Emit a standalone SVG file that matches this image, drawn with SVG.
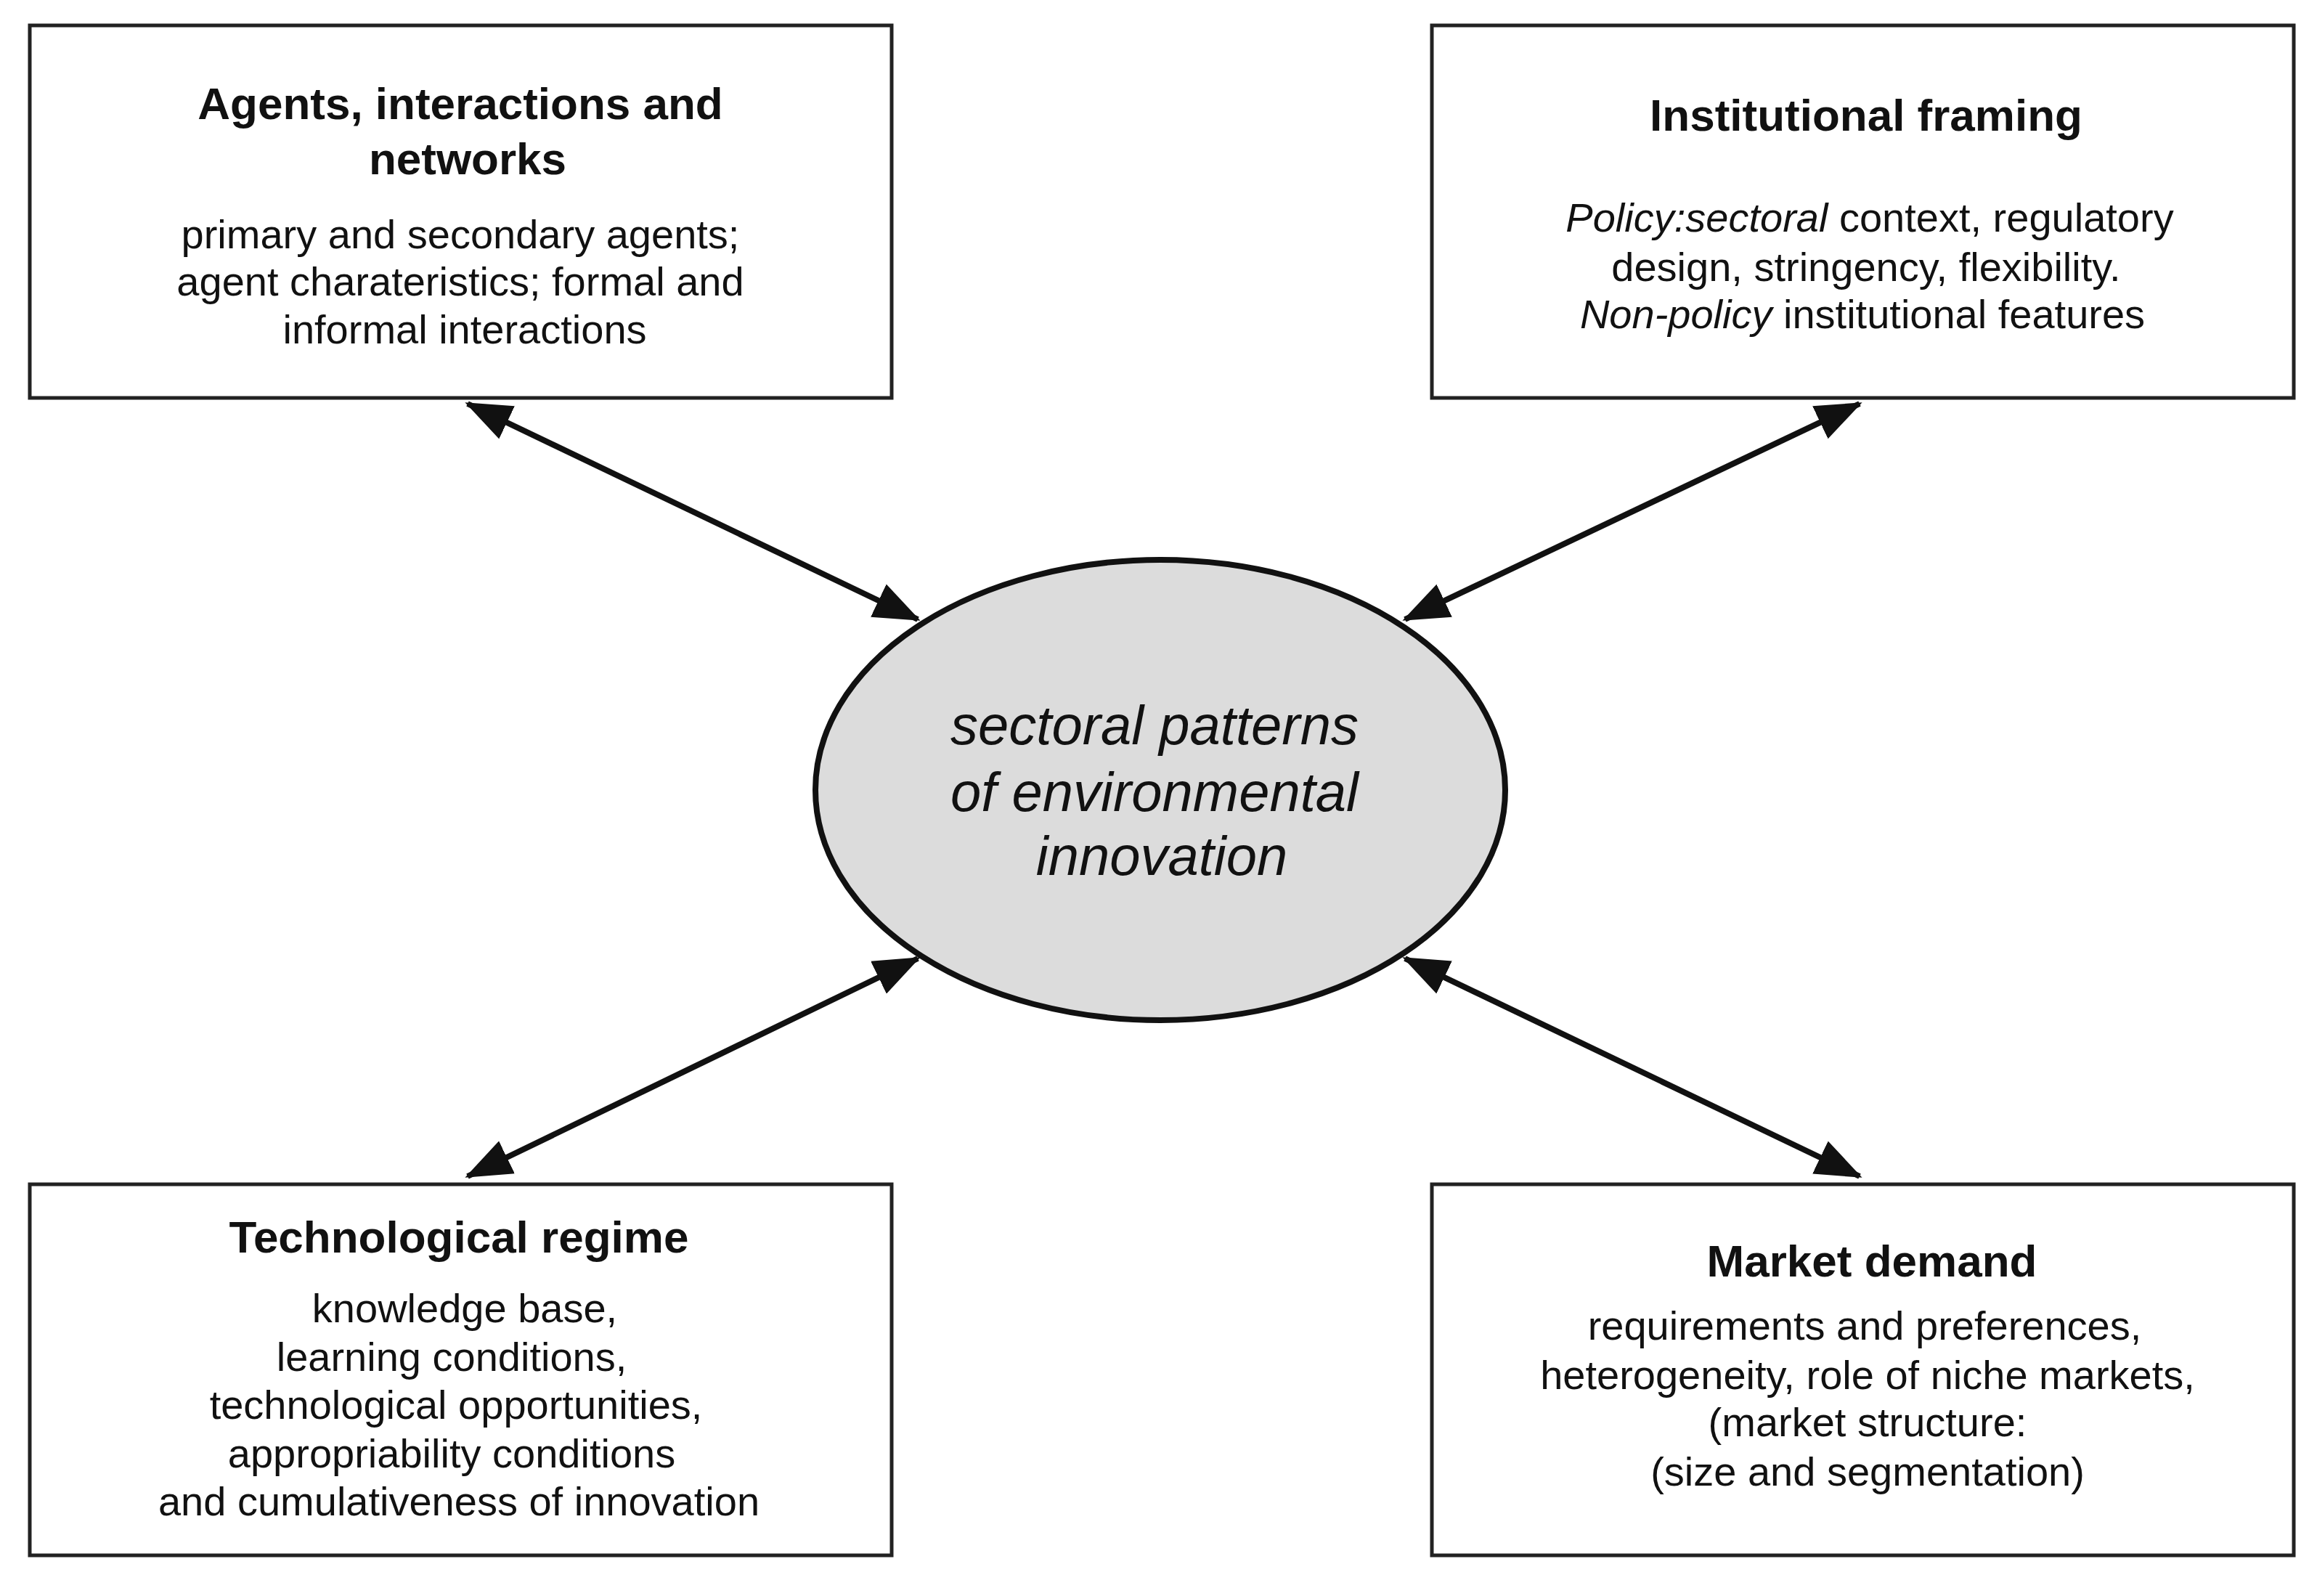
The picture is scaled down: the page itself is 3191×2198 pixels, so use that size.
<svg xmlns="http://www.w3.org/2000/svg" width="3191" height="2198" viewBox="0 0 3191 2198">
<style>
.box{fill:#fff;stroke:#222;stroke-width:5}
.t{font-family:"Liberation Sans",Arial,sans-serif;font-weight:bold;font-size:62px;text-anchor:middle;fill:#111}
.b{font-family:"Liberation Sans",Arial,sans-serif;font-size:56px;text-anchor:middle;fill:#111}
.e{font-family:"Liberation Sans",Arial,sans-serif;font-style:italic;font-size:76px;text-anchor:middle;fill:#111}
.c{stroke:#111;stroke-width:8;fill:none;marker-start:url(#a);marker-end:url(#a)}
</style>
<defs>
<marker id="a" markerUnits="userSpaceOnUse" markerWidth="64" markerHeight="50" refX="60" refY="25" orient="auto-start-reverse" viewBox="0 0 64 50">
<path d="M0,0 L64,25 L0,50 Z" fill="#111"/>
</marker>
</defs>
<rect width="3191" height="2198" fill="#fff"/>
<g id="connectors">
<line class="c" x1="644" y1="556" x2="1264" y2="853"/>
<line class="c" x1="2561" y1="556" x2="1935" y2="853"/>
<line class="c" x1="644" y1="1620" x2="1264" y2="1320"/>
<line class="c" x1="2561" y1="1620" x2="1935" y2="1320"/>
</g>
<g id="center">
<ellipse cx="1598" cy="1088" rx="475" ry="317" fill="#dcdcdc" stroke="#111" stroke-width="8"/>
<text class="e" x="1590" y="1025">sectoral patterns</text>
<text class="e" x="1590" y="1117">of environmental</text>
<text class="e" x="1600" y="1205">innovation</text>
</g>
<g id="agents">
<rect class="box" x="41" y="35" width="1187" height="513"/>
<text class="t" x="634" y="164">Agents, interactions and</text>
<text class="t" x="644" y="240">networks</text>
<text class="b" x="634" y="342">primary and secondary agents;</text>
<text class="b" x="634" y="407">agent charateristics; formal and</text>
<text class="b" x="640" y="473">informal interactions</text>
</g>
<g id="institutional">
<rect class="box" x="1972" y="35" width="1187" height="513"/>
<text class="t" x="2570" y="180">Institutional framing</text>
<text class="b" x="2575" y="319"><tspan font-style="italic">Policy:sectoral</tspan> context, regulatory</text>
<text class="b" x="2570" y="387">design, stringency, flexibility.</text>
<text class="b" x="2565" y="452"><tspan font-style="italic">Non-policy</tspan> institutional features</text>
</g>
<g id="technological">
<rect class="box" x="41" y="1631" width="1187" height="511"/>
<text class="t" x="632" y="1725">Technological regime</text>
<text class="b" x="640" y="1821">knowledge base,</text>
<text class="b" x="622" y="1888">learning conditions,</text>
<text class="b" x="628" y="1954">technological opportunities,</text>
<text class="b" x="622" y="2021">appropriability conditions</text>
<text class="b" x="632" y="2087">and cumulativeness of innovation</text>
</g>
<g id="market">
<rect class="box" x="1972" y="1631" width="1187" height="511"/>
<text class="t" x="2578" y="1758">Market demand</text>
<text class="b" x="2568" y="1845">requirements and preferences,</text>
<text class="b" x="2572" y="1913">heterogeneity, role of niche markets,</text>
<text class="b" x="2572" y="1978">(market structure:</text>
<text class="b" x="2572" y="2046">(size and segmentation)</text>
</g>
</svg>
